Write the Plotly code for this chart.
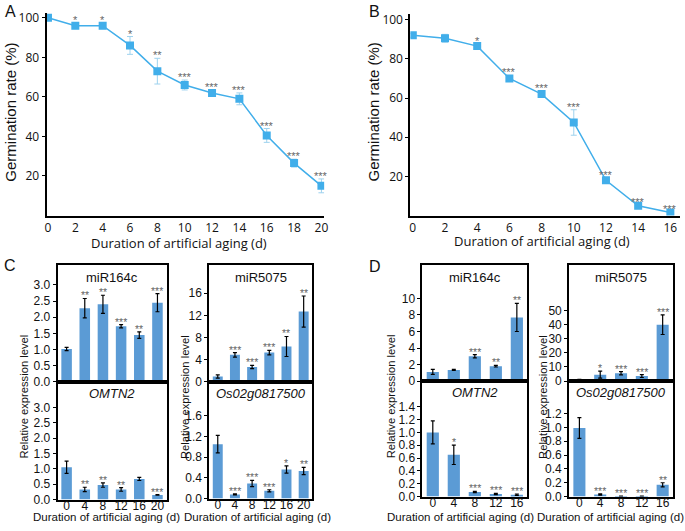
import plotly.graph_objects as go

W, H = 685, 531

# ---------------- data ----------------
days_a = [0, 2, 4, 6, 8, 10, 12, 14, 16, 18, 20]
germ_a = [100, 96, 96, 86, 73, 66, 62, 59, 40.5, 26.5, 15]
err_a = [0.5, 1.5, 1.5, 4.5, 6.5, 2.5, 1.5, 3, 3.5, 2, 3.5]
sig_a = ["", "*", "*", "*", "**", "***", "***", "***", "***", "***", "***"]

days_b = [0, 2, 4, 6, 8, 10, 12, 14, 16]
germ_b = [92, 90.5, 86.5, 70, 62, 47.5, 18, 5, 1.5]
err_b = [1, 2, 1, 1.5, 1.5, 6.5, 1, 0.5, 0.5]
sig_b = ["", "", "*", "***", "***", "***", "***", "***", "***"]

cats_c = ["0", "4", "8", "12", "16", "20"]
mir164_c = [1.02, 2.28, 2.4, 1.72, 1.45, 2.45]
mir164_c_err = [0.05, 0.3, 0.28, 0.05, 0.1, 0.28]
mir164_c_sig = ["", "**", "**", "***", "**", "***"]
omtn2_c = [1.05, 0.33, 0.47, 0.33, 0.67, 0.15]
omtn2_c_err = [0.2, 0.07, 0.07, 0.06, 0.05, 0.01]
omtn2_c_sig = ["", "**", "**", "**", "", "***"]
mir5075_c = [1.0, 4.9, 2.7, 5.3, 6.4, 12.7]
mir5075_c_err = [0.3, 0.4, 0.3, 0.4, 1.8, 2.8]
mir5075_c_sig = ["", "***", "***", "***", "**", "**"]
os02_c = [1.05, 0.08, 0.29, 0.15, 0.56, 0.53]
os02_c_err = [0.17, 0.01, 0.06, 0.02, 0.07, 0.07]
os02_c_sig = ["", "***", "***", "***", "*", "**"]

cats_d = ["0", "4", "8", "12", "16"]
mir164_d = [1.1, 1.35, 3.0, 1.8, 7.7]
mir164_d_err = [0.3, 0.05, 0.2, 0.1, 1.7]
mir164_d_sig = ["", "", "***", "**", "**"]
omtn2_d = [1.0, 0.65, 0.07, 0.04, 0.03]
omtn2_d_err = [0.18, 0.15, 0.01, 0.01, 0.01]
omtn2_d_sig = ["", "*", "***", "***", "***"]
mir5075_d = [1.0, 4.5, 5.5, 3.5, 40]
mir5075_d_err = [0.2, 2.5, 1.2, 1.0, 7]
mir5075_d_sig = ["", "*", "***", "***", "***"]
os02_d = [0.99, 0.03, 0.005, 0.005, 0.17]
os02_d_err = [0.15, 0.01, 0.002, 0.002, 0.03]
os02_d_sig = ["", "***", "***", "***", "**"]

# ---------------- style ----------------
LINE_BLUE = "#41AEEA"
ERR_BLUE = "#9ED2EE"
BAR_BLUE = "#5B9BD5"
STAR = "#666666"
FONT = "Liberation Sans, Arial, sans-serif"
FONT2 = "Open Sans, Liberation Sans, sans-serif"


def fx(px):
    return px / W


def fy(py):
    return 1 - py / H


fig = go.Figure()
annotations = []
layout = dict(
    width=W, height=H, margin=dict(l=0, r=0, t=0, b=0),
    paper_bgcolor="white", plot_bgcolor="white", showlegend=False,
    font=dict(family=FONT, color="#111", size=12),
)


def line_panel(idx, x, y, e, sig, xdom, ydom, xrange, yrange, xticks):
    xa = "x" if idx == 1 else f"x{idx}"
    ya = "y" if idx == 1 else f"y{idx}"
    fig.add_trace(go.Scatter(
        x=x, y=y, mode="lines+markers", xaxis=xa, yaxis=ya,
        line=dict(color=LINE_BLUE, width=1.5),
        marker=dict(symbol="square", size=8, color=LINE_BLUE),
        error_y=dict(type="data", array=e, color=ERR_BLUE, thickness=1, width=3),
    ))
    for xi, yi, ei, s in zip(x, y, e, sig):
        if s:
            annotations.append(dict(x=xi, y=yi + ei, xref=xa, yref=ya, text=s,
                                    showarrow=False, xanchor="center", yanchor="bottom",
                                    yshift=-5, font=dict(size=11, color=STAR, family=FONT)))
    key = "" if idx == 1 else str(idx)
    layout["xaxis" + key] = dict(
        domain=[fx(xdom[0]), fx(xdom[1])], range=xrange, anchor=ya,
        tickvals=xticks, showline=True, linecolor="black", linewidth=2,
        showgrid=False, zeroline=False, ticks="", tickfont=dict(family=FONT2, size=12),
    )
    layout["yaxis" + key] = dict(
        domain=[fy(ydom[1]), fy(ydom[0])], range=yrange, anchor=xa,
        tickvals=[20, 40, 60, 80, 100], showline=True, linecolor="black", linewidth=2,
        showgrid=False, zeroline=False, ticks="outside", ticklen=3, tickcolor="black",
        tickfont=dict(family=FONT2, size=12),
    )


line_panel(1, days_a, germ_a, err_a, sig_a, (45, 325), (9, 216), [-0.1, 20.2], [0, 102.5],
           days_a)
line_panel(2, days_b, germ_b, err_b, sig_b, (412, 684), (10, 216), [-0.15, 16.6], [0, 103],
           days_b)


def bar_panel(idx, cats, vals, errs, sig, xdom, ydom, yrange, tickvals, fmt, bottom, title, italic):
    xa, ya = f"x{idx}", f"y{idx}"
    fig.add_trace(go.Bar(
        x=cats, y=vals, xaxis=xa, yaxis=ya, marker=dict(color=BAR_BLUE, line=dict(width=0)),
        width=0.58,
        error_y=dict(type="data", array=errs, color="black", thickness=1.2, width=2),
    ))
    for i, (v, e, s) in enumerate(zip(vals, errs, sig)):
        if s:
            annotations.append(dict(x=i, y=v + e, xref=xa, yref=ya, text=s,
                                    showarrow=False, xanchor="center", yanchor="bottom",
                                    yshift=-5, font=dict(size=10.5, color=STAR, family=FONT)))
    key = str(idx)
    layout["xaxis" + key] = dict(
        domain=[fx(xdom[0]), fx(xdom[1])], anchor=ya, type="category",
        categoryorder="array", categoryarray=cats, range=[-0.5, len(cats) - 0.5],
        showline=True, mirror=True, linecolor="black", linewidth=1.6,
        showgrid=False, zeroline=False, ticks="", showticklabels=bottom,
        tickfont=dict(family=FONT, size=12), ticklabelstandoff=-6,
    )
    layout["yaxis" + key] = dict(
        domain=[fy(ydom[1]), fy(ydom[0])], range=yrange, anchor=xa,
        tickvals=tickvals, ticktext=[fmt.format(t) for t in tickvals],
        showline=True, mirror=True, linecolor="black", linewidth=1.6,
        showgrid=False, zeroline=False, ticks="outside", ticklen=3, tickcolor="black",
        tickfont=dict(family=FONT, size=12),
    )
    txt = f"<i>{title}</i>" if italic else title
    annotations.append(dict(x=(fx(xdom[0]) + fx(xdom[1])) / 2, y=fy(ydom[0] + 12),
                            xref="paper", yref="paper", text=txt, showarrow=False,
                            xanchor="center", yanchor="middle",
                            font=dict(size=13, family=FONT, color="#111")))


# C panel
bar_panel(3, cats_c, mir164_c, mir164_c_err, mir164_c_sig, (56, 166), (267, 386), [0, 3.6],
          [0, 0.5, 1, 1.5, 2, 2.5, 3], "{:.1f}", False, "miR164c", False)
bar_panel(4, cats_c, omtn2_c, omtn2_c_err, omtn2_c_sig, (56, 166), (386, 506), [0, 3.83],
          [0, 0.5, 1, 1.5, 2, 2.5, 3], "{:.1f}", True, "OMTN2", True)
bar_panel(5, cats_c, mir5075_c, mir5075_c_err, mir5075_c_sig, (209, 313), (267, 386), [0, 21],
          [0, 4, 8, 12, 16], "{:d}", False, "miR5075", False)
bar_panel(6, cats_c, os02_c, os02_c_err, os02_c_sig, (209, 313), (386, 505), [0, 2.25],
          [0, 0.4, 0.8, 1.2, 1.6], "{:.1f}", True, "Os02g0817500", True)
# D panel
bar_panel(7, cats_d, mir164_d, mir164_d_err, mir164_d_sig, (424, 530), (267, 385), [0, 14],
          [0, 2, 4, 6, 8, 10], "{:d}", False, "miR164c", False)
bar_panel(8, cats_d, omtn2_d, omtn2_d_err, omtn2_d_sig, (424, 530), (385, 503), [0, 1.8],
          [0, 0.2, 0.4, 0.6, 0.8, 1.0, 1.2, 1.4], "{:.1f}", True, "OMTN2", True)
bar_panel(9, cats_d, mir5075_d, mir5075_d_err, mir5075_d_sig, (572, 677), (267, 385), [0, 82],
          [0, 10, 20, 30, 40, 50], "{:d}", False, "miR5075", False)
bar_panel(10, cats_d, os02_d, os02_d_err, os02_d_sig, (572, 677), (385, 503), [0, 1.67],
          [0, 0.2, 0.4, 0.6, 0.8, 1.0, 1.2], "{:.1f}", True, "Os02g0817500", True)


def label(px, py, text, size, family=FONT, angle=0, color="#111"):
    annotations.append(dict(x=fx(px), y=fy(py), xref="paper", yref="paper", text=text,
                            showarrow=False, textangle=angle, xanchor="center",
                            yanchor="middle", font=dict(size=size, family=family, color=color)))


# panel letters
label(9, 8, "A", 16)
label(376, 8, "B", 16)
label(8, 267, "C", 16)
label(376, 268, "D", 16)

# A/B axis titles
label(9, 110, "Germination rate (%)", 15, angle=-90)
label(375, 110, "Germination rate (%)", 15, angle=-90)
label(179, 244, "Duration of artificial aging (d)", 13, family=FONT2)
label(545, 242, "Duration of artificial aging (d)", 13, family=FONT2)

# C/D axis titles
for px in (22, 184, 392, 545):
    label(px, 401, "Relative expression level", 11.2, angle=-90)
for px in (105, 258, 463, 614):
    label(px, 524, "Duration of artificial aging (d)", 11.5)

layout["annotations"] = annotations
fig.update_layout(**layout)
fig.write_html("out.html", post_script="document.body.style.margin='0';",
               config={"displayModeBar": False})
